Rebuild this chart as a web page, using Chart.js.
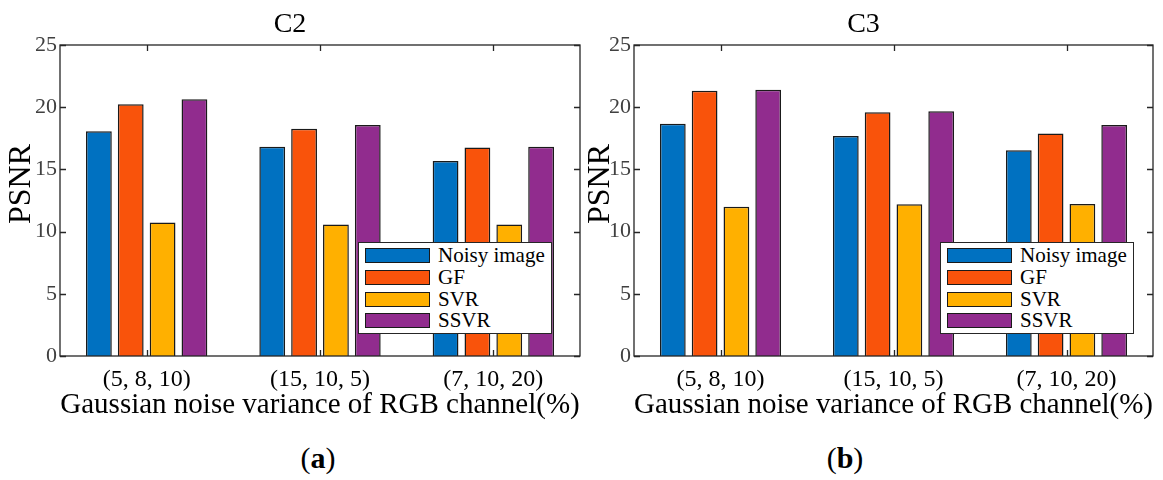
<!DOCTYPE html>
<html><head><meta charset="utf-8">
<script src="https://cdn.jsdelivr.net/npm/chart.js@4.4.0/dist/chart.umd.min.js"></script>
<style>
body{margin:0;background:#fff;width:1163px;height:480px;overflow:hidden;position:relative;font-family:"Liberation Serif","Times New Roman",serif;}
canvas{position:absolute;top:0;}
.legend{position:absolute;top:242px;width:194px;height:92px;border:1.3px solid #262626;background:#fff;box-sizing:border-box;}
.sw{position:absolute;left:6px;width:65px;height:15px;border:1.3px solid #1a1a1a;box-sizing:border-box;}
.lt{position:absolute;left:79px;font-size:21px;line-height:15px;color:#000;white-space:nowrap;}
.cap{position:absolute;top:442px;font-size:30px;line-height:32px;color:#000;transform:translateX(-50%);white-space:nowrap;}
.cap b{font-weight:bold;}
</style></head>
<body>
<canvas id="c2" width="582" height="420" style="left:0px;width:582px;height:420px"></canvas>
<canvas id="c3" width="589" height="420" style="left:574px;width:589px;height:420px"></canvas>
<div class="cap" style="left:318px">(<b>a</b>)</div>
<div class="cap" style="left:845px">(<b>b</b>)</div>
<script>
const categories = ['(5, 8, 10)', '(15, 10, 5)', '(7, 10, 20)'];
const seriesNames = ['Noisy image', 'GF', 'SVR', 'SSVR'];
const seriesColors = ['#0071C1', '#F9530B', '#FFB000', '#912C8E'];
const c2Noisy = [18.06, 16.83, 15.68];
const c2GF    = [20.23, 18.27, 16.77];
const c2SVR   = [10.74, 10.58, 10.58];
const c2SSVR  = [20.63, 18.57, 16.83];
const c3Noisy = [18.67, 17.68, 16.53];
const c3GF    = [21.33, 19.59, 17.89];
const c3SVR   = [12.00, 12.19, 12.22];
const c3SSVR  = [21.41, 19.67, 18.57];
const yMin = 0, yMax = 25, yStep = 5;
const xTitle = 'Gaussian noise variance of RGB channel(%)';
const yTitle = 'PSNR';

const FONT = '"Liberation Serif", "Times New Roman", serif';

const framePlugin = {
  id: 'frame',
  afterDatasetsDraw(chart) {
    const {ctx, chartArea: {left, right, top, bottom}, scales: {x, y}} = chart;
    ctx.save();
    ctx.strokeStyle = '#262626';
    ctx.lineWidth = 1.3;
    ctx.strokeRect(left, top, right - left, bottom - top);
    ctx.beginPath();
    y.ticks.forEach(t => {
      const py = Math.round(y.getPixelForValue(t.value)) + 0.5;
      ctx.moveTo(left, py); ctx.lineTo(left + 6, py);
      ctx.moveTo(right, py); ctx.lineTo(right - 6, py);
    });
    x.ticks.forEach((t, i) => {
      const px = Math.round(x.getPixelForTick(i)) + 0.5;
      ctx.moveTo(px, top); ctx.lineTo(px, top + 6);
      ctx.moveTo(px, bottom); ctx.lineTo(px, bottom - 6);
    });
    ctx.stroke();
    const o = chart.options.plugins.frame;
    ctx.fillStyle = '#000';
    ctx.font = '32px ' + FONT;
    ctx.textAlign = 'center';
    ctx.textBaseline = 'middle';
    ctx.translate(o.yTitleX, o.yTitleY);
    ctx.rotate(-Math.PI / 2);
    ctx.fillText(yTitle, 0, 0);
    ctx.restore();
  }
};

function makeChart(id, title, values, padRight, yTitleX) {
  return new Chart(document.getElementById(id), {
    type: 'bar',
    data: {
      labels: categories,
      datasets: values.map((v, i) => ({
        label: seriesNames[i],
        data: v,
        backgroundColor: seriesColors[i],
        borderColor: '#1a1a1a',
        borderWidth: 1.5,
        categoryPercentage: 0.735,
        barPercentage: 0.81
      }))
    },
    options: {
      responsive: false,
      animation: false,
      devicePixelRatio: 1,
      layout: {padding: {left: 0, right: padRight, top: 0, bottom: 0}},
      plugins: {
        legend: {display: false},
        tooltip: {enabled: false},
        title: {display: true, text: title, color: '#000',
          font: {family: FONT, size: 28, weight: 'normal'}, padding: {top: 8, bottom: 3.4}},
        frame: {yTitleX: yTitleX, yTitleY: 184}
      },
      scales: {
        x: {
          grid: {display: false, drawTicks: false},
          border: {display: false},
          ticks: {color: '#000', font: {family: FONT, size: 24}, padding: 9, maxRotation: 0},
          title: {display: true, text: xTitle, color: '#000',
            font: {family: FONT, size: 29, lineHeight: 1}, padding: {top: 0, bottom: 0}},
          afterFit(s) { s.height = 64; }
        },
        y: {
          min: yMin, max: yMax,
          grid: {display: false, drawTicks: false},
          border: {display: false},
          ticks: {stepSize: yStep, color: '#404040', font: {family: FONT, size: 22}, padding: 3},
          afterFit(s) { s.width = 60; }
        }
      }
    },
    plugins: [framePlugin]
  });
}

makeChart('c2', 'C2', [c2Noisy, c2GF, c2SVR, c2SSVR], 2, 22);
makeChart('c3', 'C3', [c3Noisy, c3GF, c3SVR, c3SSVR], 10, 27);

function makeLegend(leftPx) {
  const box = document.createElement('div');
  box.className = 'legend';
  box.style.left = leftPx + 'px';
  const tops = [5, 27, 48.5, 70];
  seriesNames.forEach((n, i) => {
    const sw = document.createElement('div');
    sw.className = 'sw';
    sw.style.top = tops[i] + 'px';
    sw.style.background = seriesColors[i];
    box.appendChild(sw);
    const t = document.createElement('div');
    t.className = 'lt';
    t.style.top = tops[i] + 'px';
    t.textContent = n;
    box.appendChild(t);
  });
  document.body.appendChild(box);
}
makeLegend(358);
makeLegend(940);
</script>
</body></html>
